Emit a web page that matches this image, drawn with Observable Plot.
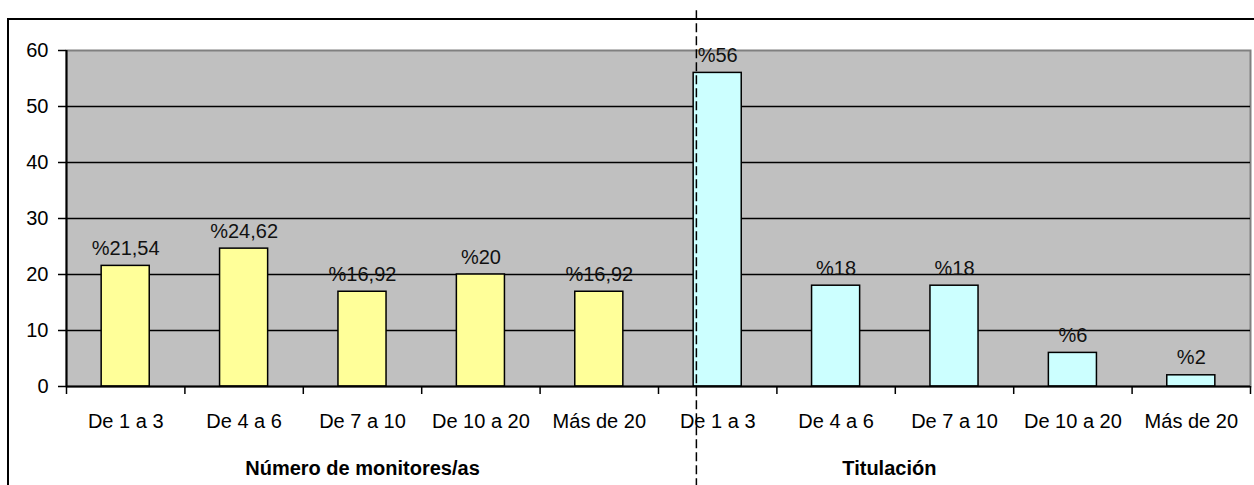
<!DOCTYPE html>
<html>
<head>
<meta charset="utf-8">
<script src="https://cdn.jsdelivr.net/npm/d3@7"></script>
<script src="https://cdn.jsdelivr.net/npm/@observablehq/plot@0.6"></script>
<style>
  html, body { margin: 0; padding: 0; background: #fff; }
  #wrap { position: relative; width: 1254px; height: 485px; overflow: hidden; }
  #frame { position: absolute; left: 7px; top: 18px; width: 1400px; height: 700px; border: 2px solid #000; box-sizing: border-box; }
  #chart { position: absolute; left: 0; top: 0; }
</style>
</head>
<body>
<div id="wrap"><div id="frame"></div><div id="chart"></div></div>
<script>
const categories = ["De 1 a 3", "De 4 a 6", "De 7 a 10", "De 10 a 20", "Más de 20",
                    "De 1 a 3", "De 4 a 6", "De 7 a 10", "De 10 a 20", "Más de 20"];
const groupOf = [0, 0, 0, 0, 0, 1, 1, 1, 1, 1];
const values = [21.54, 24.62, 16.92, 20, 16.92, 56, 18, 18, 6, 2];
const groupLabels = ["Número de monitores/as", "Titulación"];
const groupCenters = [2.5, 6.95];
const groupColors = ["#FFFF99", "#CCFFFF"];
const yTicks = [0, 10, 20, 30, 40, 50, 60];
const divider = {x: 5.32, y1: 67.1, y2: -17.7};

const data = values.map((v, i) => ({i, v, cat: categories[i], g: groupOf[i]}));
const fmt = v => "%" + String(v).replace(".", ",");

const chart = Plot.plot({
  width: 1254,
  height: 485,
  marginLeft: 66,
  marginRight: 4,
  marginTop: 50,
  marginBottom: 99,
  style: {fontFamily: "'Liberation Sans', Arial, sans-serif", fontSize: "20px", color: "#000", background: "transparent"},
  x: {domain: [0, 10], axis: null},
  y: {domain: [0, 60], axis: null},
  marks: [
    Plot.frame({fill: "#C0C0C0", stroke: "#808080", strokeWidth: 2}),
    Plot.gridY(yTicks.filter(t => t > 0 && t < 60), {stroke: "#000", strokeOpacity: 1, strokeWidth: 1.5}),
    Plot.rectY(data, {
      x1: d => d.i + 0.297, x2: d => d.i + 0.703, y: "v",
      fill: d => groupColors[d.g], stroke: "#000", strokeWidth: 1.5
    }),
    Plot.text(data, {
      x: d => d.i + 0.5, y: "v", text: d => fmt(d.v),
      lineAnchor: "bottom", dy: -11, fontSize: 20, fill: "#111"
    }),
    Plot.ruleX([0], {stroke: "#000", strokeWidth: 2}),
    Plot.ruleY([0], {stroke: "#000", strokeWidth: 2}),
    Plot.axisY(yTicks, {anchor: "left", label: null, tickSize: 8, tickPadding: 10, fontSize: 20, strokeWidth: 1.5}),
    Plot.axisX(d3.range(11), {anchor: "bottom", label: null, tickSize: 8, tickFormat: () => "", strokeWidth: 1.5}),
    Plot.axisX(d3.range(10).map(i => i + 0.5), {
      anchor: "bottom", label: null, tickSize: 0, tickPadding: 27, fontSize: 20,
      tickFormat: t => categories[Math.floor(t)]
    }),
    Plot.axisX(groupCenters, {
      anchor: "bottom", label: null, tickSize: 0, tickPadding: 74, fontSize: 20, fontWeight: "bold",
      tickFormat: (t, k) => groupLabels[k]
    }),
    Plot.ruleX([divider], {x: "x", y1: "y1", y2: "y2", stroke: "#000", strokeWidth: 1.5, strokeDasharray: "9,4", clip: false})
  ]
});
document.getElementById("chart").appendChild(chart);
</script>
</body>
</html>
